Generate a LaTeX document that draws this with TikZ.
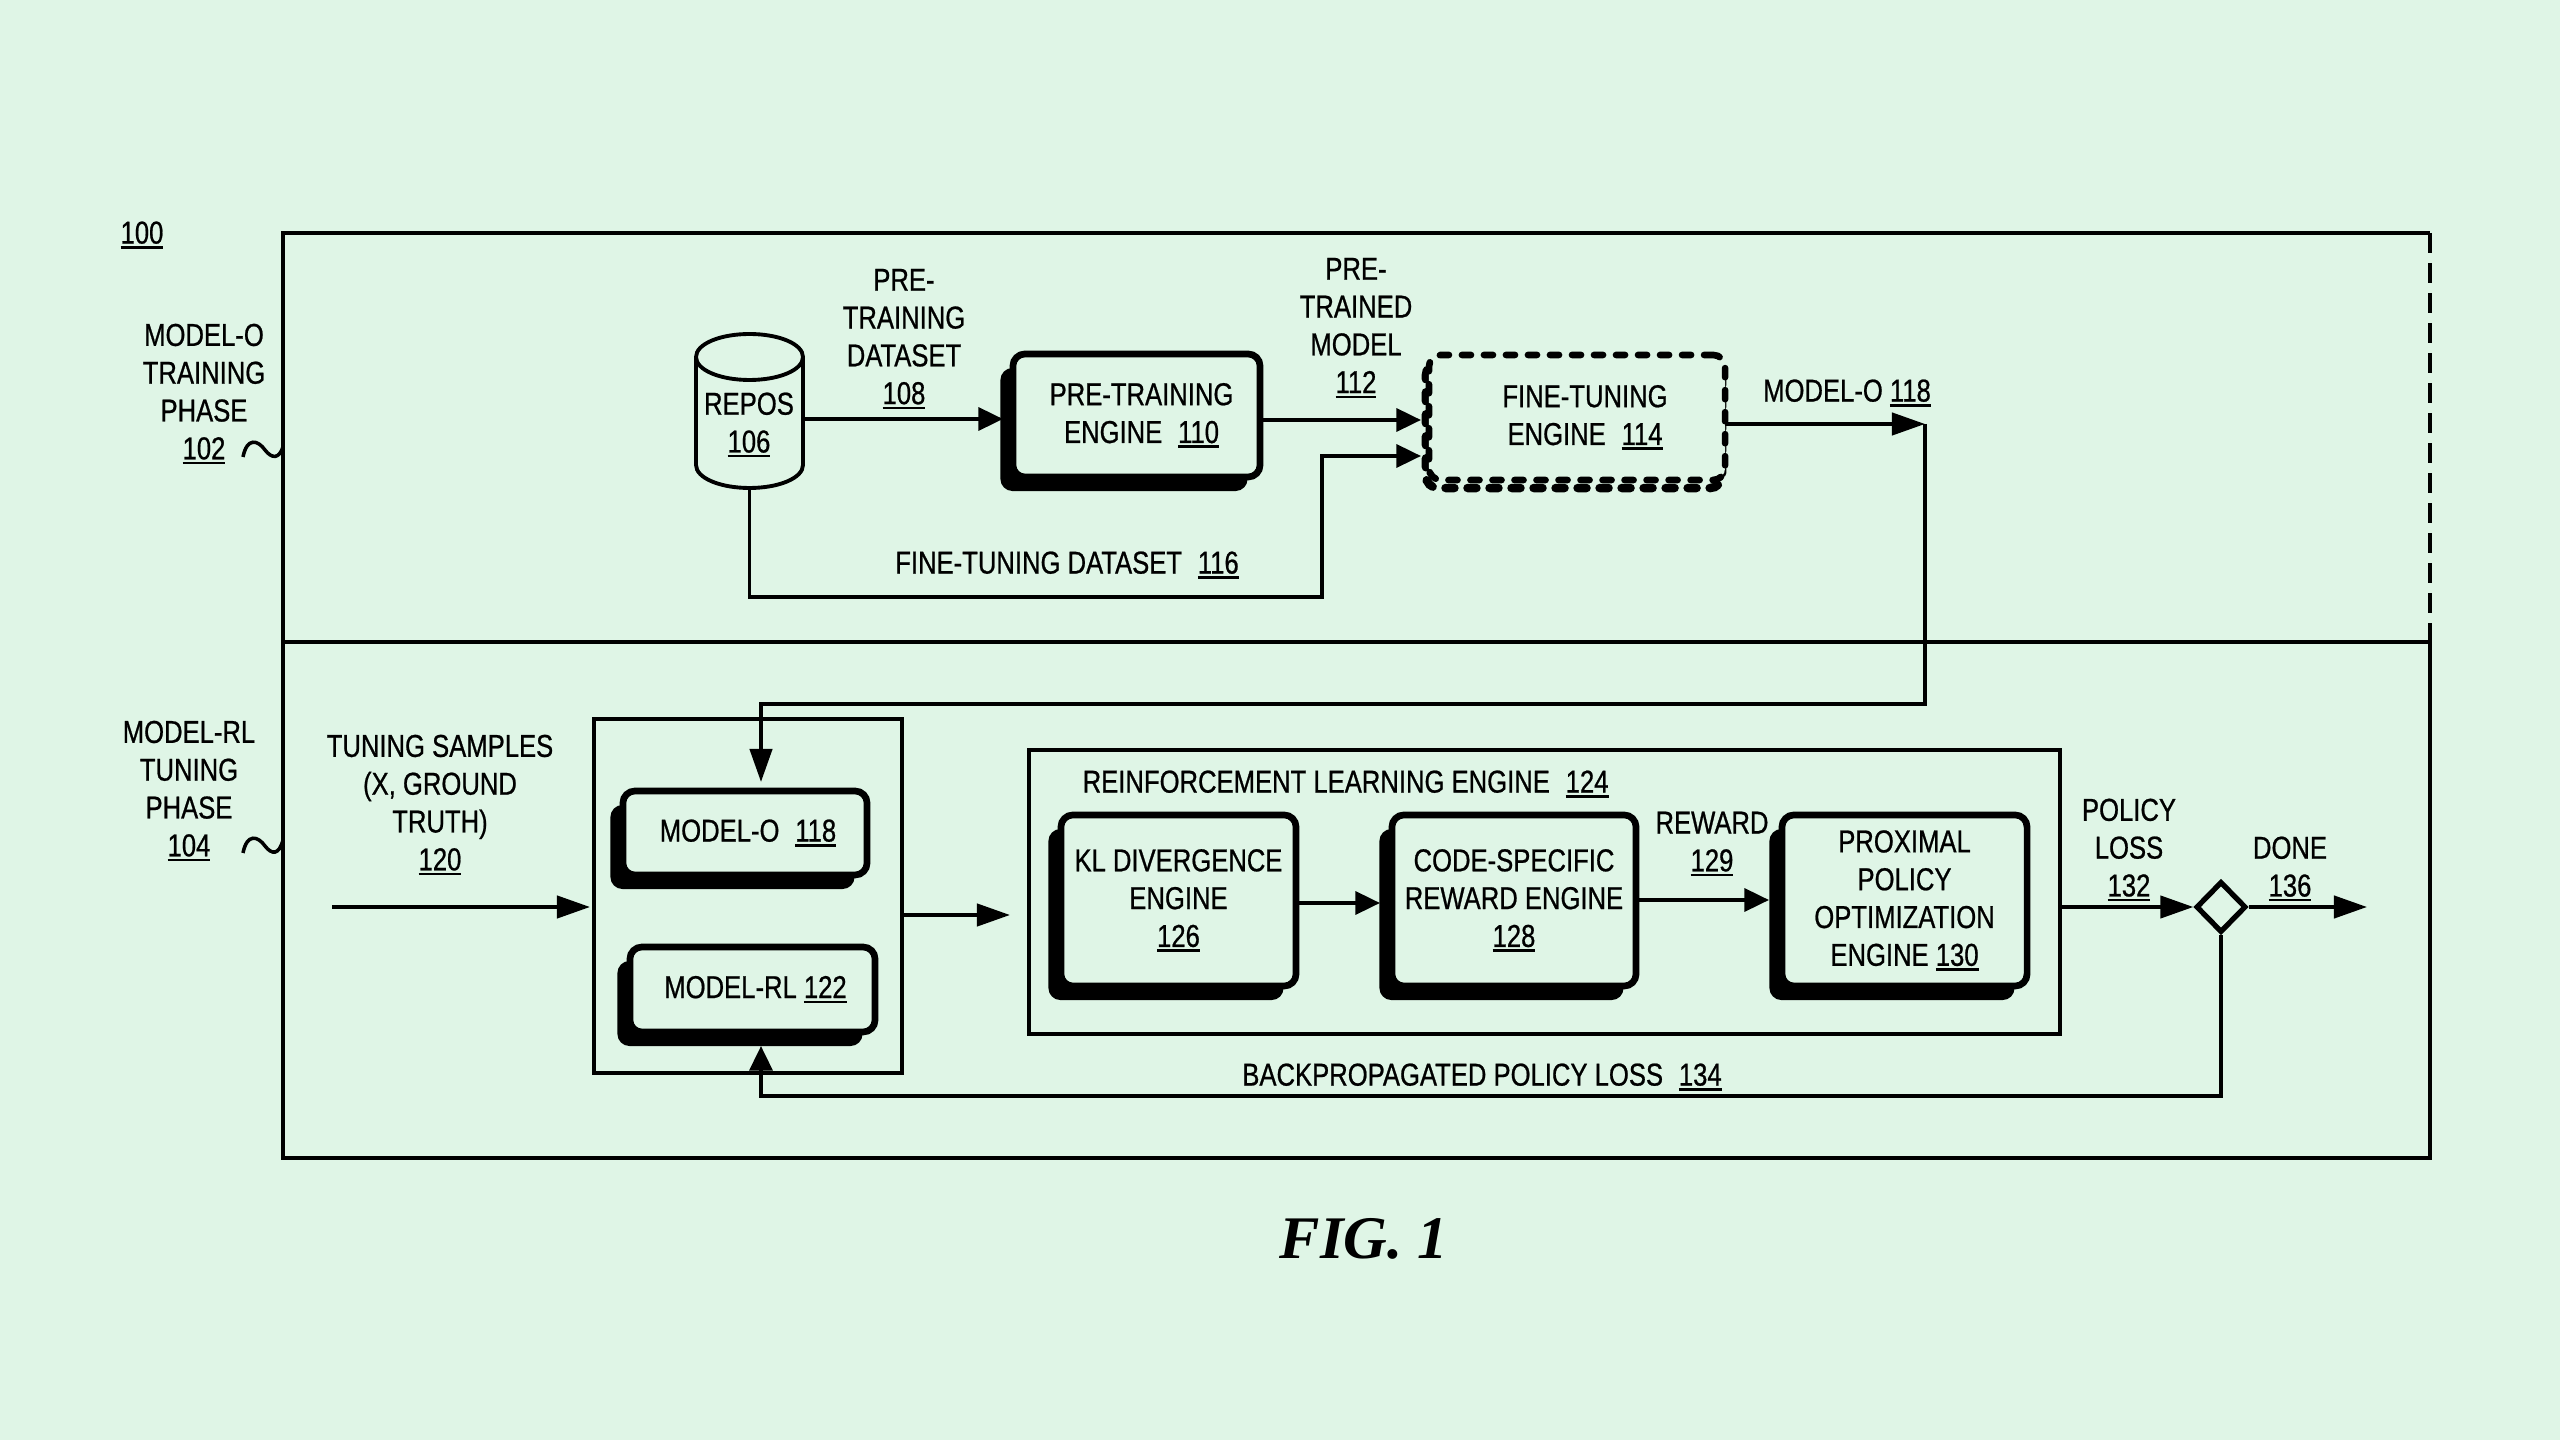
\documentclass[tikz,border=0pt]{standalone}
\usepackage{fontspec}
\setmainfont[FakeStretch=0.81,FakeBold=0.7]{Liberation Sans}
\newfontfamily\figfont{Liberation Serif}
\usetikzlibrary{arrows.meta}
\usetikzlibrary{shadows}
\usetikzlibrary{shapes.geometric}
\definecolor{paper}{RGB}{223,245,230}
\newcommand{\refnum}[1]{\setbox0\hbox{#1}\rlap{\rule[-1.4pt]{\wd0}{0.7pt}}\box0}
\tikzset{
  bodytext/.style={font=\fontsize{9}{10.75}\selectfont, align=center, inner sep=0pt},
  tag/.style={bodytext, yshift=-0.03cm},
  frame/.style={line width=1pt},
  flow/.style={line width=1.1pt, -{Triangle[length=9.4pt,width=6.3pt]}},
  shortflow/.style={line width=1.1pt, -{Triangle[length=7pt,width=6.5pt]}},
  plainbox/.style={bodytext, draw, line width=1.1pt, rectangle, outer sep=0pt},
  engine/.style={bodytext, draw, fill=paper, line width=1.9pt, rounded corners=0.12cm, outer sep=0pt,
    general shadow={fill=black, shadow xshift=-0.125cm, shadow yshift=-0.14cm}},
  dashedengine/.style={bodytext, draw, fill=paper, line width=1.9pt, rounded corners=0.12cm, outer sep=0pt,
    line cap=round, dash pattern=on 0.09cm off 0.13cm,
    general shadow={draw=black, fill=none, line width=2.4pt, shadow xshift=-0.03cm, shadow yshift=-0.08cm}},
  repository/.style={inner sep=0pt, outer sep=0pt, minimum width=1.07cm, minimum height=1.54cm},
  gate/.style={draw, fill=paper, line width=1.5pt, diamond, inner sep=0pt, minimum width=0.5cm, minimum height=0.51cm}
}

\begin{document}
\begin{tikzpicture}[x=0.01cm, y=-0.01cm]

  % Paper
  \fill[paper] (0,0) rectangle (2560,1440);

  % Phase frames
  \coordinate (topleft) at (283,233);
  \coordinate (topright) at (2430,233);
  \coordinate (midleft) at (283,642);
  \coordinate (midright) at (2430,642);
  \coordinate (botleft) at (283,1158);
  \coordinate (botright) at (2430,1158);
  \draw[frame] (midleft) -- (topleft) -- (topright);
  \draw[frame, line width=1.2pt, dash pattern=on 0.2cm off 0.1cm] (topright) -- (midright);
  \draw[frame] (midleft) -- (midright) -- (botright) -- (botleft) -- cycle;

  % Define nodes
  \node[repository] (repos) at (749.5,411) {};
  \node[tag] (repostext) at (749,422) {REPOS\\\refnum{106}};
  \node[engine, minimum width=2.47cm, minimum height=1.23cm] (pretrain) at (1136.5,415.5) {\hspace*{0.1cm}PRE-TRAINING\\\hspace*{0.1cm}ENGINE\enspace\refnum{110}};
  \node[dashedengine, minimum width=2.96cm, minimum height=1.25cm] (fine) at (1577,417.5) {\hspace*{0.16cm}FINE-TUNING\\\hspace*{0.16cm}ENGINE\enspace\refnum{114}};

  \node[plainbox, minimum width=3.08cm, minimum height=3.54cm] (group) at (748,896) {};
  \node[engine, minimum width=2.44cm, minimum height=0.84cm] (modelo) at (745,833) {\hspace*{0.06cm}MODEL-O\enspace\refnum{118}};
  \node[engine, minimum width=2.45cm, minimum height=0.85cm] (modelrl) at (752.5,989.5) {\hspace*{0.06cm}MODEL-RL \refnum{122}};

  \node[plainbox, minimum width=10.31cm, minimum height=2.84cm] (rl) at (1544.5,892) {};
  \node[tag, anchor=west] (rltext) at (1082,781) {REINFORCEMENT LEARNING ENGINE\enspace\refnum{124}};
  \node[engine, minimum width=2.35cm, minimum height=1.71cm] (kl) at (1178.5,900.5) {KL DIVERGENCE\\ENGINE\\\refnum{126}};
  \node[engine, minimum width=2.44cm, minimum height=1.71cm] (code) at (1514,900.5) {CODE-SPECIFIC\\REWARD ENGINE\\\refnum{128}};
  \node[engine, minimum width=2.45cm, minimum height=1.71cm] (ppo) at (1904.5,900.5) {PROXIMAL\\POLICY\\OPTIMIZATION\\ENGINE \refnum{130}};
  \node[gate] (gate) at (2221,907) {};

  % Repos drum
  \draw[line width=1.1pt] (696,357) .. controls (696,344) and (720,334) .. (749.5,334) .. controls (779,334) and (803,344) .. (803,357)
    -- (803,465) .. controls (803,478) and (779,488) .. (749.5,488) .. controls (720,488) and (696,478) .. (696,465) -- cycle;
  \draw[line width=1.1pt] (696,357) .. controls (696,370) and (720,380) .. (749.5,380) .. controls (779,380) and (803,370) .. (803,357);

  % Labels
  \node[tag] (fig) at (142,232) {\refnum{100}};
  \node[tag] (phaseo) at (204,391) {MODEL-O\\TRAINING\\PHASE\\\refnum{102}};
  \node[tag] (phaserl) at (189,788) {MODEL-RL\\TUNING\\PHASE\\\refnum{104}};
  \node[tag] (samples) at (440,802) {TUNING SAMPLES\\(X, GROUND\\TRUTH)\\\refnum{120}};
  \node[tag] (predata) at (904,336) {PRE-\\TRAINING\\DATASET\\\refnum{108}};
  \node[tag] (premodel) at (1356,325) {PRE-\\TRAINED\\MODEL\\\refnum{112}};
  \node[tag] (modelname) at (1847,390) {MODEL-O \refnum{118}};
  \node[tag] (finedata) at (1067,562) {FINE-TUNING DATASET\enspace\refnum{116}};
  \node[tag] (reward) at (1712,841) {REWARD\\\refnum{129}};
  \node[tag] (loss) at (2129,847) {POLICY\\LOSS\\\refnum{132}};
  \node[tag] (done) at (2290,866) {DONE\\\refnum{136}};
  \node[tag] (backloss) at (1482,1074) {BACKPROPAGATED POLICY LOSS\enspace\refnum{134}};
  \node[inner sep=0pt, font=\figfont\bfseries\itshape\fontsize{17.2}{20}\selectfont] (figure) at (1364,1239) {FIG. 1};

  % Connector ends
  \coordinate (pretip) at (1003,419);
  \coordinate (finetip) at (1421,420);
  \coordinate (finetiplow) at (1421,456);
  \coordinate (elbow) at (1322,597);
  \coordinate (modelout) at (1925,424);
  \coordinate (feed) at (761,704);
  \coordinate (feedtip) at (761,782);
  \coordinate (samplestart) at (332,907);
  \coordinate (sampletip) at (590,907);
  \coordinate (groupout) at (902,915);
  \coordinate (grouptip) at (1010,915);
  \coordinate (codetip) at (1380,903);
  \coordinate (ppotip) at (1769,900);
  \coordinate (donetip) at (2367,907);
  \coordinate (back) at (761,1096);
  \coordinate (backtip) at (761,1046);

  % Connect nodes
  \draw[shortflow] (repos.east |- pretip) -- (pretip);
  \draw[shortflow] (pretrain.east |- finetip) -- (finetip);
  \draw[shortflow] (repos.south) |- (elbow) |- (finetiplow);
  \draw[flow] (fine.east |- modelout) -- (modelout);
  \draw[flow] (modelout) |- (feed) -- (feedtip);
  \draw[flow] (samplestart) -- (sampletip);
  \draw[flow] (groupout) -- (grouptip);
  \draw[shortflow] (kl.east |- codetip) -- (codetip);
  \draw[shortflow] (code.east |- ppotip) -- (ppotip);
  \draw[flow] (rl.east |- gate.west) -- (gate.west);
  \draw[flow] (gate.east) -- (donetip);
  \draw[shortflow] (gate.south) |- (back) -- (backtip);

  % Phase ties
  \draw[frame] (243,457) .. controls (247,437) and (258,440) .. (265,450) .. controls (272,459) and (279,459) .. (283,447);
  \draw[frame] (243,853) .. controls (247,833) and (258,836) .. (265,846) .. controls (272,855) and (279,855) .. (283,840);

\end{tikzpicture}
\end{document}
